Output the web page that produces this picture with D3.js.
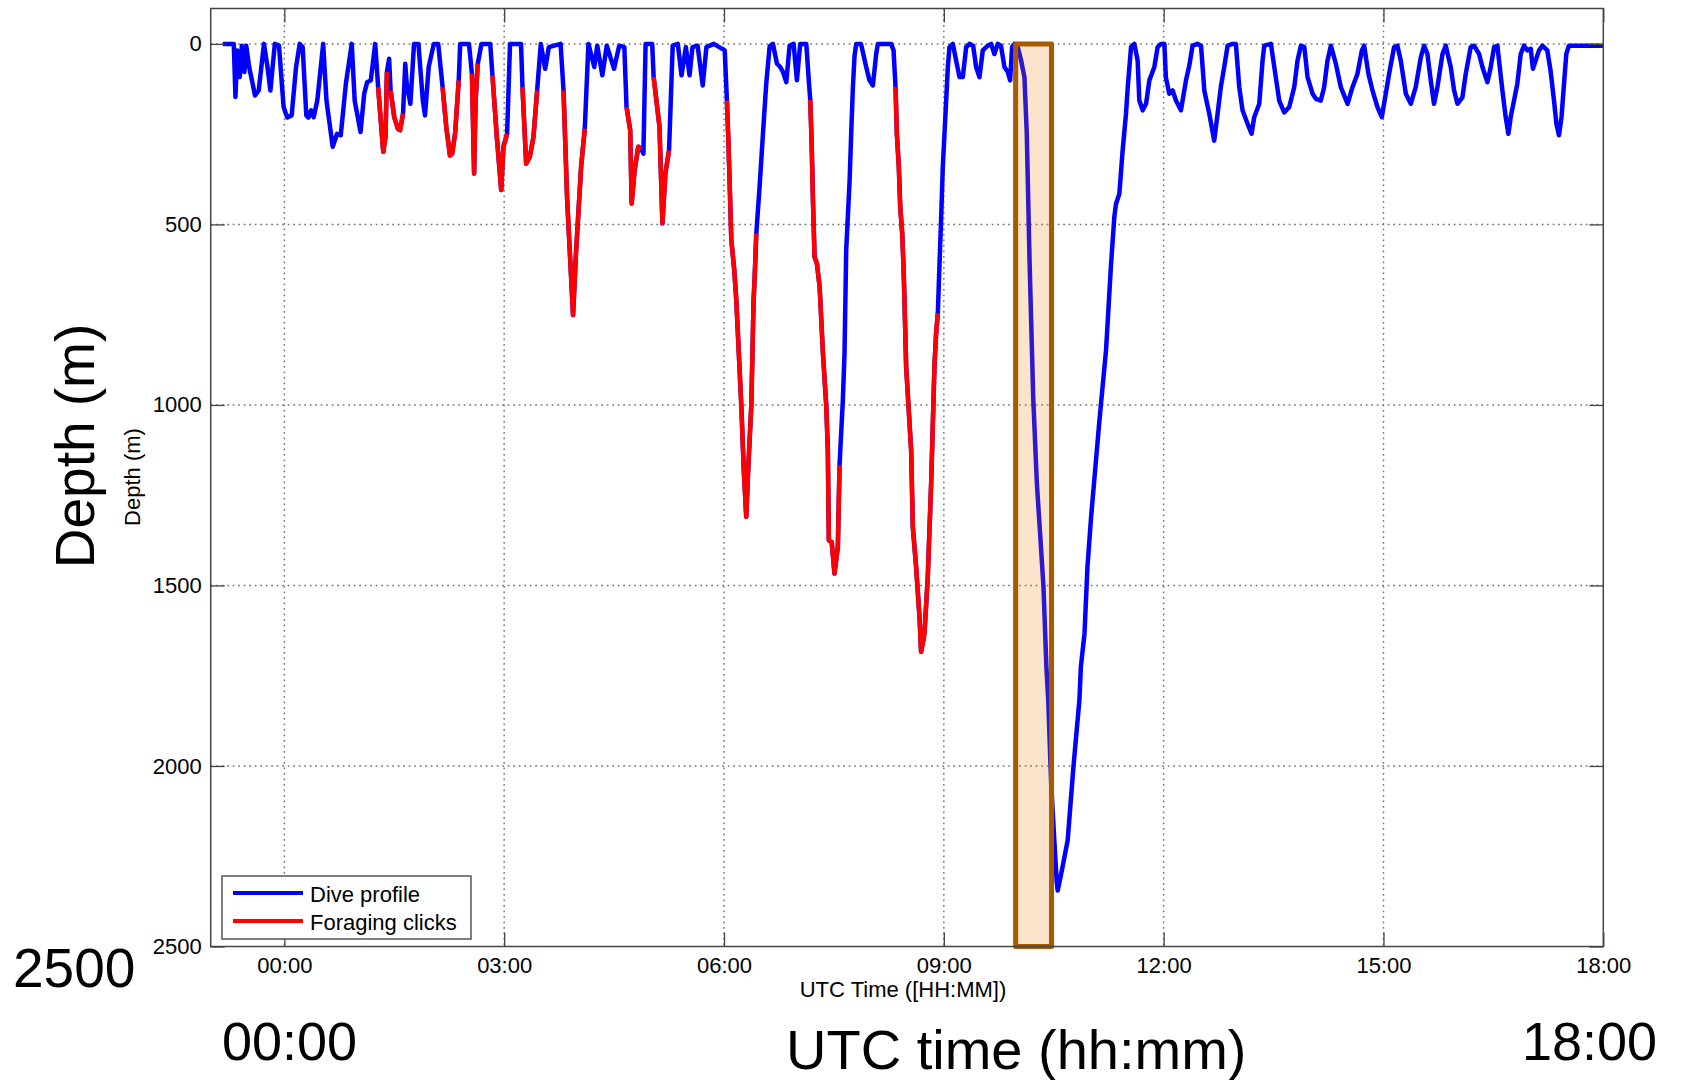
<!DOCTYPE html>
<html>
<head>
<meta charset="utf-8">
<script src="https://cdn.jsdelivr.net/npm/d3@7"></script>
<style>
    body { margin: 0; background: #fff; }
    text { font-family: "Liberation Sans", Arial, Helvetica, sans-serif; fill: #000; }
    .axis path { display: none; }
    .axis line { stroke: #444; stroke-width: 1.3; }
    .axis text { font-size: 22px; }
    .grid line { stroke: #7a7a7a; stroke-width: 1.5; stroke-dasharray: 1.8, 3.7; }
</style>
</head>
<body>
<div id="depth_chart"></div>
<script>
// dive profile: [hours from 00:00 UTC, depth in m]
const diveProfile = [
    [-0.84,0],[-0.69,0],[-0.667,147],[-0.643,18],[-0.609,92],[-0.58,5],[-0.545,78],[-0.52,5],[-0.48,64],
    [-0.433,110],[-0.40,143],[-0.35,129],[-0.278,0],[-0.23,64],[-0.19,129],[-0.13,0],[-0.073,5],[-0.01,175],
    [0.04,204],[0.10,198],[0.16,64],[0.21,0],[0.25,9],[0.30,198],[0.33,204],[0.365,184],[0.40,203],[0.45,157],
    [0.53,0],[0.575,157],[0.66,285],[0.72,249],[0.77,253],[0.84,110],[0.92,0],[0.96,157],[1.04,244],[1.09,138],
    [1.13,106],[1.18,101],[1.24,0],[1.28,120],[1.35,299],[1.38,258],[1.40,78],[1.43,41],[1.45,129],[1.50,203],
    [1.55,235],[1.58,239],[1.62,193],[1.65,55],[1.67,110],[1.72,166],[1.77,0],[1.83,0],[1.89,157],[1.92,198],
    [1.97,64],[2.04,0],[2.10,0],[2.16,120],[2.21,230],[2.26,309],[2.29,304],[2.33,249],[2.38,101],[2.40,0],
    [2.52,0],[2.56,83],[2.59,359],[2.61,157],[2.64,55],[2.69,0],[2.81,0],[2.84,87],[2.90,258],[2.96,405],
    [2.99,285],[3.04,249],[3.08,0],[3.23,0],[3.25,120],[3.30,332],[3.35,313],[3.40,258],[3.45,129],[3.50,0],
    [3.56,69],[3.61,9],[3.77,0],[3.81,129],[3.86,433],[3.94,751],[3.98,580],[4.05,341],[4.10,235],[4.15,0],
    [4.23,64],[4.27,5],[4.34,87],[4.40,5],[4.50,69],[4.57,5],[4.64,9],[4.67,175],[4.72,239],[4.74,442],
    [4.78,350],[4.83,285],[4.87,290],[4.90,304],[4.93,0],[5.02,0],[5.04,92],[5.12,230],[5.16,497],[5.20,359],
    [5.25,295],[5.30,5],[5.37,0],[5.42,87],[5.48,9],[5.53,87],[5.57,9],[5.64,5],[5.71,115],[5.76,9],[5.86,0],
    [6.01,18],[6.04,157],[6.06,267],[6.10,543],[6.14,626],[6.168,710],[6.236,1000],[6.27,1180],[6.304,1310],
    [6.33,1180],[6.373,1000],[6.404,710],[6.42,640],[6.441,525],[6.486,395],[6.532,248],[6.577,109],[6.623,7],
    [6.668,0],[6.723,55],[6.768,64],[6.805,78],[6.85,106],[6.895,5],[6.95,0],[6.995,101],[7.04,0],[7.123,0],
    [7.16,109],[7.177,155],[7.195,266],[7.214,433],[7.236,590],[7.268,608],[7.305,672],[7.35,856],[7.395,1000],
    [7.417,1125],[7.431,1375],[7.47,1380],[7.508,1467],[7.554,1393],[7.577,1167],[7.622,987],[7.645,856],
    [7.668,570],[7.714,380],[7.736,248],[7.759,120],[7.782,32],[7.805,0],[7.87,0],[7.941,64],[7.986,101],
    [8.032,115],[8.077,28],[8.10,0],[8.282,0],[8.314,18],[8.341,120],[8.359,248],[8.386,341],[8.405,451],
    [8.432,525],[8.45,617],[8.463,709],[8.486,894],[8.554,1125],[8.577,1338],[8.622,1449],[8.668,1587],
    [8.690,1684],[8.736,1633],[8.781,1476],[8.827,1218],[8.872,894],[8.895,802],[8.918,746],[8.94,617],
    [8.964,479],[8.986,341],[9.009,249],[9.032,157],[9.055,64],[9.077,9],[9.123,0],[9.168,46],[9.214,92],
    [9.259,92],[9.305,9],[9.35,0],[9.40,5],[9.441,64],[9.486,92],[9.532,18],[9.6,5],[9.645,0],[9.69,28],
    [9.736,0],[9.78,5],[9.827,64],[9.873,78],[9.905,101],[9.932,9],[9.964,0],[10.009,9],[10.055,46],[10.10,92],
    [10.132,248],[10.17,600],[10.22,980],[10.27,1218],[10.314,1356],[10.36,1504],[10.40,1726],[10.425,1818],
    [10.465,2050],[10.508,2206],[10.54,2320],[10.554,2345],[10.58,2320],[10.62,2280],[10.69,2206],[10.77,2000],
    [10.85,1818],[10.87,1726],[10.92,1633],[10.96,1449],[11.01,1310],[11.077,1153],[11.12,1051],[11.214,848],
    [11.28,617],[11.327,479],[11.35,443],[11.395,416],[11.44,296],[11.486,194],[11.51,120],[11.555,9],[11.6,0],
    [11.645,46],[11.668,157],[11.714,184],[11.76,166],[11.805,101],[11.873,64],[11.918,9],[11.964,0],[12.01,0],
    [12.03,92],[12.077,138],[12.123,129],[12.168,157],[12.236,184],[12.305,101],[12.35,60],[12.395,5],[12.46,0],
    [12.51,5],[12.555,129],[12.623,194],[12.69,268],[12.736,194],[12.78,120],[12.827,64],[12.873,5],[12.94,0],
    [12.986,0],[13.032,120],[13.077,184],[13.145,221],[13.2,249],[13.236,203],[13.305,166],[13.35,46],[13.373,5],
    [13.464,0],[13.51,64],[13.577,157],[13.645,190],[13.714,175],[13.782,120],[13.827,46],[13.873,5],[13.92,9],
    [13.964,92],[14.032,138],[14.077,152],[14.145,157],[14.19,120],[14.236,46],[14.282,5],[14.314,28],[14.35,55],
    [14.418,120],[14.51,166],[14.577,120],[14.645,83],[14.705,18],[14.736,5],[14.795,83],[14.85,129],[14.918,175],
    [14.977,203],[15.032,138],[15.077,83],[15.145,9],[15.19,5],[15.236,46],[15.305,138],[15.373,166],[15.44,120],
    [15.51,37],[15.555,5],[15.6,28],[15.645,101],[15.69,166],[15.736,120],[15.805,28],[15.85,5],[15.918,64],
    [15.964,129],[16.01,166],[16.077,148],[16.123,83],[16.19,9],[16.236,5],[16.305,28],[16.35,64],[16.418,106],
    [16.464,64],[16.51,9],[16.555,5],[16.577,46],[16.623,129],[16.668,203],[16.705,249],[16.736,203],[16.782,157],
    [16.827,110],[16.873,28],[16.918,5],[16.964,18],[17.01,14],[17.04,69],[17.077,46],[17.123,18],[17.168,5],
    [17.236,18],[17.28,74],[17.327,157],[17.36,221],[17.395,253],[17.43,203],[17.464,110],[17.495,28],[17.53,5],
    [18.0,5]
];

// time windows (hours) with foraging clicks
const foragingBouts = [
    [1.28,1.40],[1.45,1.62],[2.16,2.38],[2.56,2.64],[2.84,3.04],[3.25,3.45],
    [3.81,4.10],[4.67,4.87],[5.04,5.25],[6.04,6.441],[7.177,7.577],[8.341,8.918]
];

const timeTicks = [0, 3, 6, 9, 12, 15, 18];
const depthTicks = [0, 500, 1000, 1500, 2000, 2500];
const seriesNames = ['Dive profile', 'Foraging clicks'];
const seriesColors = ['#0000ff', '#ff0000'];
const highlightWindow = [9.98, 10.47];
const timeDomain = [-1.005, 18];
const depthDomain = [-98, 2500];

const config = {
    svg: { width: 1681, height: 1080 },
    plot: { x: 210.7, y: 8.5, width: 1392.6, height: 938 }
};

let svg = d3.select('body').select('#depth_chart')
    .append('svg')
        .attr('width', config.svg.width)
        .attr('height', config.svg.height);

svg.append('rect')
    .attr('width', config.svg.width)
    .attr('height', config.svg.height)
    .attr('fill', '#fff');

let plot = svg.append('g')
        .attr('id', 'plot')
        .attr('transform', translate(config.plot.x, config.plot.y));

let x = d3.scaleLinear().domain(timeDomain).range([0, config.plot.width]);
let y = d3.scaleLinear().domain(depthDomain).range([0, config.plot.height]);

let hhmm = (h) => d3.format('02d')(h) + ':00';

// dotted grid
let grid = plot.append('g').attr('class', 'grid');
grid.selectAll('.vgrid')
    .data(timeTicks.filter((d) => d < timeDomain[1]))
    .enter().append('line')
        .attr('x1', (d) => x(d)).attr('x2', (d) => x(d))
        .attr('y1', 0).attr('y2', config.plot.height);
grid.selectAll('.hgrid')
    .data(depthTicks.filter((d) => d < depthDomain[1]))
    .enter().append('line')
        .attr('x1', 0).attr('x2', config.plot.width)
        .attr('y1', (d) => y(d)).attr('y2', (d) => y(d));

// dive profile and foraging parts
let line = d3.line()
    .x((d) => x(d[0]))
    .y((d) => y(d[1]));

plot.append('path')
    .datum(diveProfile)
    .attr('d', line)
    .attr('fill', 'none')
    .attr('stroke', seriesColors[0])
    .attr('stroke-width', 4.5)
    .attr('stroke-linejoin', 'round');

plot.selectAll('.foraging')
    .data(foragingBouts.map((b) => diveProfile.filter((p) => p[0] >= b[0] - 1e-6 && p[0] <= b[1] + 1e-6)))
    .enter().append('path')
        .attr('class', 'foraging')
        .attr('d', line)
        .attr('fill', 'none')
        .attr('stroke', seriesColors[1])
        .attr('stroke-width', 4.5)
        .attr('stroke-linejoin', 'round');

// highlighted deep dive
plot.append('rect')
    .attr('x', x(highlightWindow[0]))
    .attr('y', y(0))
    .attr('width', x(highlightWindow[1]) - x(highlightWindow[0]))
    .attr('height', y(depthTicks[depthTicks.length - 1]) - y(0))
    .attr('fill', 'rgb(240,120,0)')
    .attr('fill-opacity', 0.2)
    .attr('stroke', '#a85a00')
    .attr('stroke-width', 5)
    .attr('stroke-linejoin', 'round');

// axes
plot.append('g')
        .attr('class', 'axis axis--x')
        .attr('transform', translate(0, config.plot.height))
    .call(d3.axisBottom(x).tickValues(timeTicks).tickFormat(hhmm)
        .tickSizeInner(-14).tickSizeOuter(0).tickPadding(11));

plot.append('g')
        .attr('class', 'axis axis--top')
    .call(d3.axisTop(x).tickValues(timeTicks).tickFormat('')
        .tickSizeInner(-14).tickSizeOuter(0));

plot.append('g')
        .attr('class', 'axis axis--y')
    .call(d3.axisLeft(y).tickValues(depthTicks).tickFormat(d3.format('d'))
        .tickSizeInner(-14).tickSizeOuter(0).tickPadding(9));

plot.append('g')
        .attr('class', 'axis axis--right')
        .attr('transform', translate(config.plot.width, 0))
    .call(d3.axisRight(y).tickValues(depthTicks).tickFormat('')
        .tickSizeInner(-14).tickSizeOuter(0));

plot.append('rect')
    .attr('width', config.plot.width)
    .attr('height', config.plot.height)
    .attr('fill', 'none')
    .attr('stroke', '#444')
    .attr('stroke-width', 1.5);

// legend
let legend = svg.append('g').attr('transform', translate(222, 876));
legend.append('rect')
    .attr('width', 249).attr('height', 63)
    .attr('fill', '#fff').attr('stroke', '#555').attr('stroke-width', 1.5);
let item = legend.selectAll('.item')
    .data(seriesNames)
    .enter().append('g')
        .attr('transform', (d, i) => translate(0, 17 + i * 28));
item.append('line')
    .attr('x1', 11).attr('x2', 81)
    .attr('stroke', (d, i) => seriesColors[i])
    .attr('stroke-width', 4);
item.append('text')
    .attr('x', 88).attr('y', 8.5)
    .style('font-size', '22px')
    .text((d) => d);

// small axis titles
svg.append('text')
    .attr('x', 903).attr('y', 997)
    .style('font-size', '22px')
    .style('text-anchor', 'middle')
    .text('UTC Time ([HH:MM])');

svg.append('text')
    .attr('transform', translate(140, 477) + ' rotate(-90)')
    .style('font-size', '22px')
    .style('text-anchor', 'middle')
    .text('Depth (m)');

// large overlay labels
svg.append('text')
    .attr('transform', translate(94, 446) + ' rotate(-90)')
    .style('font-size', '55px')
    .style('text-anchor', 'middle')
    .text('Depth (m)');

svg.append('text')
    .attr('x', 13).attr('y', 987)
    .style('font-size', '55px')
    .text(depthTicks[depthTicks.length - 1]);

svg.append('text')
    .attr('x', 222).attr('y', 1060)
    .style('font-size', '54px')
    .text(hhmm(timeTicks[0]));

svg.append('text')
    .attr('x', 1522).attr('y', 1060)
    .style('font-size', '54px')
    .text(hhmm(timeTicks[timeTicks.length - 1]));

svg.append('text')
    .attr('x', 786).attr('y', 1069)
    .style('font-size', '56px')
    .text('UTC time (hh:mm)');

// helper method to make translating easier
function translate(x, y) {
    return 'translate(' + x + ',' + y + ')';
}
</script>
</body>
</html>
